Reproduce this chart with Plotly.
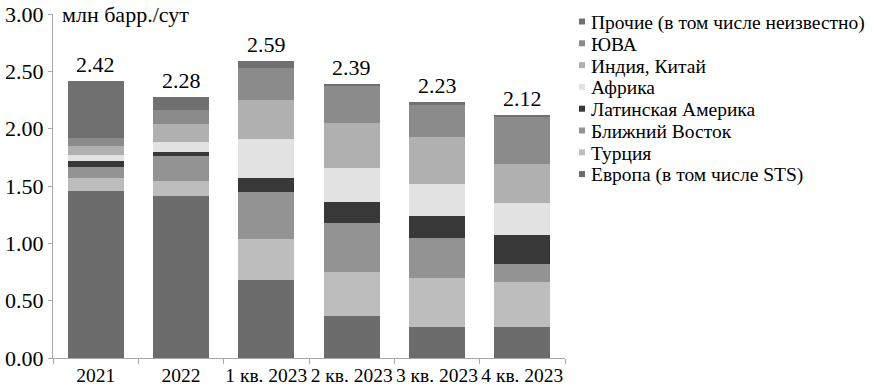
import plotly.graph_objects as go

categories = ["2021", "2022", "1 кв. 2023", "2 кв. 2023", "3 кв. 2023", "4 кв. 2023"]
totals = [2.42, 2.28, 2.59, 2.39, 2.23, 2.12]

europe = [1.46, 1.41, 0.68, 0.37, 0.27, 0.27]
turkey = [0.11, 0.13, 0.36, 0.38, 0.43, 0.39]
mideast = [0.10, 0.22, 0.41, 0.43, 0.35, 0.16]
latam = [0.05, 0.04, 0.12, 0.18, 0.19, 0.25]
africa = [0.05, 0.08, 0.34, 0.30, 0.28, 0.28]
india_china = [0.08, 0.16, 0.34, 0.39, 0.41, 0.34]
sea = [0.07, 0.12, 0.28, 0.32, 0.28, 0.41]
other = [0.50, 0.12, 0.06, 0.02, 0.02, 0.02]

series = [
    ("Европа (в том числе STS)", europe, "#6c6c6c"),
    ("Турция", turkey, "#bdbdbd"),
    ("Ближний Восток", mideast, "#939393"),
    ("Латинская Америка", latam, "#383838"),
    ("Африка", africa, "#e2e2e2"),
    ("Индия, Китай", india_china, "#b0b0b0"),
    ("ЮВА", sea, "#8b8b8b"),
    ("Прочие (в том числе неизвестно)", other, "#707070"),
]

FONT = "Liberation Serif, Times New Roman, serif"
W, H = 878, 387
L, R, T, B = 53, 313, 14, 29
PW, PH = W - L - R, H - T - B


def px_x(p):
    return (p - L) / PW


def px_y(p):
    return (H - B - p) / PH


fig = go.Figure()
for name, vals, color in series:
    fig.add_trace(go.Bar(x=categories, y=vals, name=name, marker_color=color,
                         marker_line_width=0, showlegend=False, hoverinfo="skip"))

for i, t in enumerate(totals):
    fig.add_annotation(x=i, y=t, text=f"{t:.2f}", showarrow=False, yanchor="bottom",
                       yshift=2, font=dict(family=FONT, size=22, color="black"))

fig.add_annotation(xref="paper", yref="y", x=px_x(60), y=3.0, xanchor="left", yanchor="middle",
                   text="млн барр./сут", showarrow=False,
                   font=dict(family=FONT, size=22, color="black"))

# custom legend (top item = last series)
for i, (name, vals, color) in enumerate(reversed(series)):
    cy = 22.5 + i * 21.8
    fig.add_shape(type="rect", xref="paper", yref="paper",
                  x0=px_x(579), x1=px_x(585), y0=px_y(cy + 2), y1=px_y(cy - 4),
                  fillcolor=color, line_width=0)
    fig.add_annotation(xref="paper", yref="paper", x=px_x(589), y=px_y(cy),
                       xanchor="left", yanchor="middle", text=name, showarrow=False,
                       font=dict(family=FONT, size=19.5, color="black"))

fig.update_layout(
    width=W, height=H,
    margin=dict(l=L, r=R, t=T, b=B, autoexpand=False),
    barmode="stack", bargap=0.34,
    plot_bgcolor="white", paper_bgcolor="white",
    font=dict(family=FONT, size=20, color="black"),
    showlegend=False, hovermode=False,
)
fig.update_yaxes(range=[0, 3], tickvals=[0, 0.5, 1, 1.5, 2, 2.5, 3], tickformat=".2f",
                 showgrid=False, showline=True, linecolor="#a8a8a8", linewidth=1,
                 ticks="outside", ticklen=4, tickcolor="#a8a8a8", zeroline=False,
                 automargin=False,
                 tickfont=dict(family=FONT, size=22, color="black"))
fig.update_xaxes(type="category", range=[-0.5, len(categories) - 0.5],
                 showgrid=False, showline=True, linecolor="#a8a8a8",
                 linewidth=1, ticks="outside", ticklen=5, tickcolor="#a8a8a8",
                 tickson="boundaries", tickangle=0, automargin=False,
                 tickfont=dict(family=FONT, size=19.5, color="black"))

fig.write_html("out.html", config={"displayModeBar": False, "staticPlot": True},
               post_script="document.body.style.margin='0';document.body.style.overflow='hidden';")
